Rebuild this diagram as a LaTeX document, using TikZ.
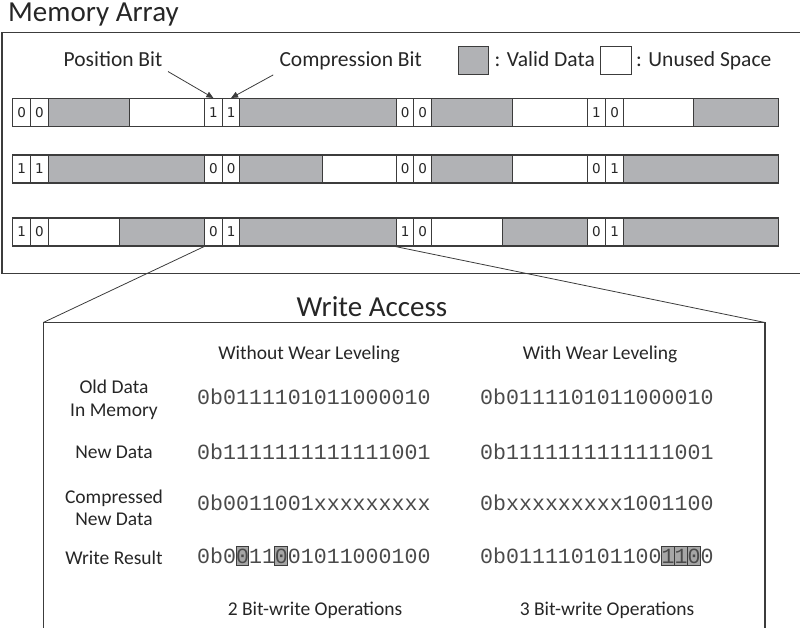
\documentclass[tikz,border=0pt]{standalone}
\usepackage{fontspec}
\setmainfont{Carlito}
\newfontfamily\codefont{Liberation Mono}
\newfontfamily\digitfont{DejaVu Sans}
\usetikzlibrary{arrows.meta}

\definecolor{ink}{HTML}{262626}
\definecolor{edge}{HTML}{3C3C3C}
\definecolor{validfill}{HTML}{B1B2B5}
\definecolor{markfill}{HTML}{A6A6A6}
\definecolor{codeink}{HTML}{4A4A4A}

% one block of a memory row: name, left x, right x, style, text
\newcommand\memseg[5]{\node[#4, minimum width={#3-#2}] (#1) at (#2,\rowtop) {#5};}

\begin{document}
\begin{tikzpicture}[x=1pt,y=-1pt,
  frame/.style={draw=edge, line width=1.1pt},
  segbase/.style={frame, minimum height=28, inner sep=0, anchor=north west},
  bitcell/.style={segbase, fill=white, text=ink, font=\digitfont\fontsize{13.5}{14}\selectfont},
  validseg/.style={segbase, fill=validfill},
  unusedseg/.style={segbase, fill=white},
  bigtitle/.style={inner sep=0, text=ink, font=\fontsize{29}{34}\selectfont},
  smalltext/.style={inner sep=0, text=ink, font=\fontsize{21.5}{25}\selectfont},
  tabtext/.style={inner sep=0, text=ink, font=\fontsize{19.5}{23}\selectfont},
  codetext/.style={inner sep=0, text=codeink, font=\codefont\fontsize{21.6}{24}\selectfont},
  pointer/.style={draw=edge, line width=0.8pt, -{Triangle[length=7,width=6]}},
  zoomline/.style={draw=edge, line width=0.8pt},
  markbox/.style={draw=edge, line width=0.8pt, fill=markfill}
]
\useasboundingbox (0,0) rectangle (800,628);

% ---------------- memory array ----------------
\node[bigtitle, anchor=base west] (memtitle) at (8,22) {Memory Array};
\draw[frame] (800,32.5) -- (2,32.5) -- (2,273.5) -- (800,273.5);

\node[smalltext, anchor=base west] (posbit) at (63.5,66.7) {Position Bit};
\node[smalltext, anchor=base west] (compbit) at (279.3,66.7) {Compression Bit};

\node[validseg, minimum width=30.6, minimum height=28.3] (legvalid) at (457.7,45.7) {};
\node[smalltext, anchor=base west] (legvalidtxt) at (494.5,66.7) {: Valid Data};
\node[unusedseg, minimum width=30.6, minimum height=28.3] (legunused) at (600.3,45.7) {};
\node[smalltext, anchor=base west] (legunusedtxt) at (636,66.7) {: Unused Space};

% row 1
\def\rowtop{98}
\memseg{r1a}{12.3}{30}{bitcell}{0}
\memseg{r1b}{30}{47.7}{bitcell}{0}
\memseg{r1c}{47.7}{129.3}{validseg}{}
\memseg{r1x}{129.3}{204}{unusedseg}{}
\memseg{r1d}{204}{221.7}{bitcell}{1}
\memseg{r1e}{221.7}{239.3}{bitcell}{1}
\memseg{r1f}{239.3}{395.7}{validseg}{}
\memseg{r1g}{395.7}{413.3}{bitcell}{0}
\memseg{r1h}{413.3}{431}{bitcell}{0}
\memseg{r1i}{431}{512.3}{validseg}{}
\memseg{r1y}{512.3}{586.7}{unusedseg}{}
\memseg{r1j}{586.7}{605}{bitcell}{1}
\memseg{r1k}{605}{623.3}{bitcell}{0}
\memseg{r1l}{623.3}{693.3}{unusedseg}{}
\memseg{r1m}{693.3}{778.3}{validseg}{}

% row 2
\def\rowtop{154.5}
\memseg{r2a}{12.3}{30}{bitcell}{1}
\memseg{r2b}{30}{47.7}{bitcell}{1}
\memseg{r2c}{47.7}{204}{validseg}{}
\memseg{r2d}{204}{221.7}{bitcell}{0}
\memseg{r2e}{221.7}{239.3}{bitcell}{0}
\memseg{r2f}{239.3}{321.7}{validseg}{}
\memseg{r2x}{321.7}{395.7}{unusedseg}{}
\memseg{r2g}{395.7}{413.3}{bitcell}{0}
\memseg{r2h}{413.3}{431}{bitcell}{0}
\memseg{r2i}{431}{512.3}{validseg}{}
\memseg{r2y}{512.3}{586.7}{unusedseg}{}
\memseg{r2j}{586.7}{605}{bitcell}{0}
\memseg{r2k}{605}{623.3}{bitcell}{1}
\memseg{r2l}{623.3}{778.3}{validseg}{}

% row 3
\def\rowtop{217.5}
\memseg{r3a}{12.3}{30}{bitcell}{1}
\memseg{r3b}{30}{47.7}{bitcell}{0}
\memseg{r3c}{47.7}{119}{unusedseg}{}
\memseg{r3x}{119}{204}{validseg}{}
\memseg{r3d}{204}{221.7}{bitcell}{0}
\memseg{r3e}{221.7}{239.3}{bitcell}{1}
\memseg{r3f}{239.3}{395.7}{validseg}{}
\memseg{r3g}{395.7}{413.3}{bitcell}{1}
\memseg{r3h}{413.3}{431}{bitcell}{0}
\memseg{r3i}{431}{501.7}{unusedseg}{}
\memseg{r3y}{501.7}{586.7}{validseg}{}
\memseg{r3j}{586.7}{605}{bitcell}{0}
\memseg{r3k}{605}{623.3}{bitcell}{1}
\memseg{r3l}{623.3}{778.3}{validseg}{}

% flag bit callouts
\draw[pointer] ([shift={(5.5,4.5)}]posbit.south east) -- (r1d.north);
\draw[pointer] ([shift={(-6,4.5)}]compbit.south west) -- (r1e.north);

% ---------------- write access panel ----------------
\coordinate (wa-nw) at (43.3,322.5);
\coordinate (wa-ne) at (765,322.5);
\draw[frame] (43.3,629) -- (wa-nw) -- (wa-ne) -- (765,629);
\draw[zoomline] (r3d.south west) -- (wa-nw);
\draw[zoomline] (r3g.south west) -- (wa-ne);

\node[bigtitle, anchor=base] (watitle) at (372,316) {Write Access};

\node[tabtext, anchor=base] (hdrplain) at (309,359) {Without Wear Leveling};
\node[tabtext, anchor=base] (hdrwl) at (600,359) {With Wear Leveling};

\node[tabtext, anchor=base] (lblold1) at (114,393) {Old Data};
\node[tabtext, anchor=base] (lblold2) at (114,416.5) {In Memory};
\node[tabtext, anchor=base] (lblnew) at (114,458.3) {New Data};
\node[tabtext, anchor=base] (lblcmp1) at (114,503.3) {Compressed};
\node[tabtext, anchor=base] (lblcmp2) at (114,525) {New Data};
\node[tabtext, anchor=base] (lblres) at (114,564) {Write Result};

% bits that are actually written
\draw[markbox] (235.9,546.5) rectangle (248.8,565.5);
\draw[markbox] (274.8,546.5) rectangle (287.7,565.5);
\draw[markbox] (661.4,546.5) rectangle (674.4,565.5);
\draw[markbox] (674.4,546.5) rectangle (687.4,565.5);
\draw[markbox] (687.4,546.5) rectangle (700.3,565.5);

\node[codetext, anchor=base west] (oldplain) at (197,404.5) {0b0111101011000010};
\node[codetext, anchor=base west] (oldwl) at (480,404.5) {0b0111101011000010};
\node[codetext, anchor=base west] (newplain) at (197,459) {0b1111111111111001};
\node[codetext, anchor=base west] (newwl) at (480,459) {0b1111111111111001};
\node[codetext, anchor=base west] (cmpplain) at (197,510.7) {0b0011001xxxxxxxxx};
\node[codetext, anchor=base west] (cmpwl) at (480,510.7) {0bxxxxxxxxx1001100};
\node[codetext, anchor=base west] (resplain) at (197,563.5) {0b0011001011000100};
\node[codetext, anchor=base west] (reswl) at (480,563.5) {0b0111101011001100};

\node[tabtext, anchor=base] (cntplain) at (315,615) {2 Bit-write Operations};
\node[tabtext, anchor=base] (cntwl) at (607,615) {3 Bit-write Operations};
\end{tikzpicture}
\end{document}
